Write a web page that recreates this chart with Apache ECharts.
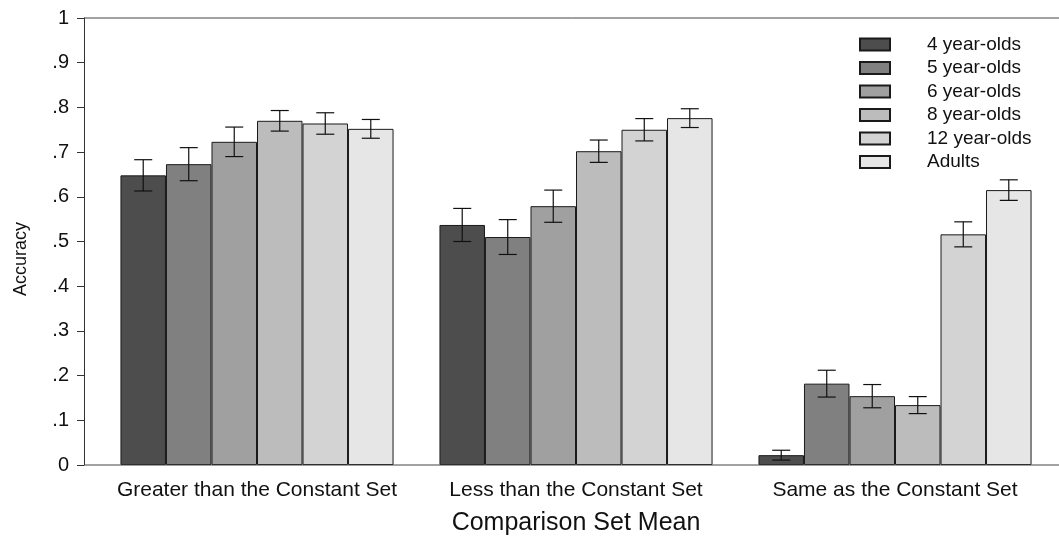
<!DOCTYPE html>
<html>
<head>
<meta charset="utf-8">
<script src="https://cdn.jsdelivr.net/npm/echarts@6/dist/echarts.min.js"></script>
<style>
  html, body { margin: 0; padding: 0; background: #fff; }
  #chart { width: 1059px; height: 538px; }
</style>
</head>
<body>
<div id="chart"></div>
<script>
// categories and groups
var categories = ['Greater than the Constant Set', 'Less than the Constant Set', 'Same as the Constant Set'];
var groups = ['4 year-olds', '5 year-olds', '6 year-olds', '8 year-olds', '12 year-olds', 'Adults'];
var yTicks = ['0', '.1', '.2', '.3', '.4', '.5', '.6', '.7', '.8', '.9', '1'];

// mean accuracy, one array per age group (greater, less, same)
var age4   = [0.648, 0.537, 0.022];
var age5   = [0.673, 0.510, 0.182];
var age6   = [0.723, 0.579, 0.154];
var age8   = [0.770, 0.702, 0.134];
var age12  = [0.764, 0.750, 0.516];
var adults = [0.752, 0.776, 0.615];

// error bar half-widths
var err4   = [0.035, 0.037, 0.011];
var err5   = [0.037, 0.039, 0.030];
var err6   = [0.033, 0.036, 0.026];
var err8   = [0.023, 0.025, 0.019];
var err12  = [0.024, 0.025, 0.028];
var errAd  = [0.021, 0.021, 0.023];

var means = [age4, age5, age6, age8, age12, adults];
var errs = [err4, err5, err6, err8, err12, errAd];
var colors = ['#4d4d4d', '#808080', '#a0a0a0', '#bcbcbc', '#d3d3d3', '#e6e6e6'];

var catGap = 0.144;
var FONT = '"Liberation Sans", Arial, sans-serif';

var myChart = echarts.init(document.getElementById('chart'));

var series = [];
groups.forEach(function (g, i) {
  series.push({
    name: g,
    type: 'bar',
    data: means[i],
    barGap: 0,
    barCategoryGap: (catGap * 100) + '%',
    itemStyle: { color: colors[i], borderColor: '#1a1a1a', borderWidth: 1 },
    emphasis: { disabled: true }
  });
});

// error bars
var errData = [];
groups.forEach(function (g, i) {
  categories.forEach(function (c, j) {
    errData.push([j, i, means[i][j] - errs[i][j], means[i][j] + errs[i][j]]);
  });
});
series.push({
  type: 'custom',
  name: 'err',
  data: errData,
  z: 10,
  renderItem: function (params, api) {
    var cat = api.value(0), s = api.value(1);
    var lo = api.coord([cat, api.value(2)]);
    var hi = api.coord([cat, api.value(3)]);
    var bandW = api.size([1, 0])[0];
    var barW = bandW * (1 - catGap) / groups.length;
    var x = lo[0] + (s - (groups.length - 1) / 2) * barW;
    var cap = 9;
    var st = { stroke: '#111', lineWidth: 1.2 };
    return {
      type: 'group',
      children: [
        { type: 'line', shape: { x1: x, y1: lo[1], x2: x, y2: hi[1] }, style: st },
        { type: 'line', shape: { x1: x - cap, y1: lo[1], x2: x + cap, y2: lo[1] }, style: st },
        { type: 'line', shape: { x1: x - cap, y1: hi[1], x2: x + cap, y2: hi[1] }, style: st }
      ]
    };
  }
});

var option = {
  animation: false,
  backgroundColor: '#fff',
  textStyle: { fontFamily: FONT },
  grid: { left: 97.5, right: 4.5, top: 18, bottom: 73, outerBoundsMode: 'none', containLabel: false },
  legend: {
    data: groups,
    orient: 'vertical',
    left: 859,
    top: 35,
    padding: 0,
    itemWidth: 30,
    itemHeight: 12,
    itemGap: 4.5,
    icon: 'rect',
    selectedMode: false,
    textStyle: { fontSize: 19, color: '#111', fontFamily: FONT, padding: [0, 0, 0, 32] }
  },
  xAxis: {
    type: 'category',
    data: categories,
    name: 'Comparison Set Mean',
    nameLocation: 'middle',
    nameGap: 46,
    nameTextStyle: { fontSize: 25, color: '#111', fontFamily: FONT },
    axisLine: { show: false },
    axisTick: { show: false },
    axisLabel: { fontSize: 21, color: '#111', margin: 15, interval: 0, hideOverlap: false, fontFamily: FONT }
  },
  yAxis: {
    type: 'value',
    min: 0,
    max: 1,
    interval: 0.1,
    offset: 13.5,
    splitLine: { show: false },
    axisLine: { show: true, lineStyle: { color: '#333', width: 1 } },
    axisTick: { show: true, length: 7, lineStyle: { color: '#333' } },
    axisLabel: {
      fontSize: 20, color: '#111', margin: 15, fontFamily: FONT,
      formatter: function (v) { return yTicks[Math.round(v * 10)]; }
    }
  },
  graphic: [
    { type: 'line', shape: { x1: 84, y1: 465, x2: 1059, y2: 465 }, style: { stroke: '#444', lineWidth: 1 }, z: 5 },
    { type: 'line', shape: { x1: 84, y1: 18, x2: 1059, y2: 18 }, style: { stroke: '#444', lineWidth: 1 }, z: 5 },
    {
      type: 'text', x: 21, y: 259, rotation: Math.PI / 2,
      style: { text: 'Accuracy', fontSize: 18, fontFamily: FONT, fill: '#111', textAlign: 'center', textVerticalAlign: 'middle' }
    }
  ],
  series: series
};

myChart.setOption(option);
</script>
</body>
</html>
